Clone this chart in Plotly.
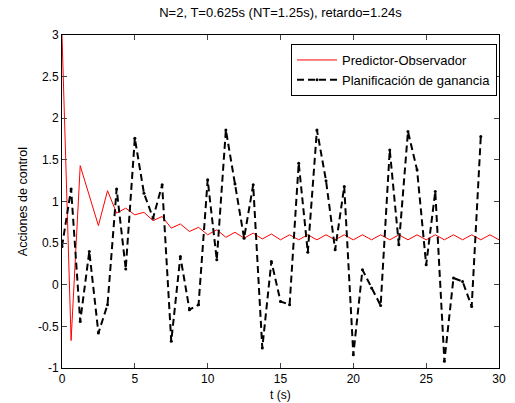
import plotly.graph_objects as go

T = 0.625
# Predictor-Observador (red), samples every T from t=0 to t=30
pred_vals = [3.0, -0.67, 1.43, 1.07, 0.71, 1.13, 0.86, 0.92, 0.84, 0.87,
             0.77, 0.82, 0.68, 0.73, 0.64, 0.69, 0.60, 0.66, 0.57, 0.63,
             0.56, 0.62, 0.55, 0.61, 0.54, 0.60, 0.54, 0.60, 0.54, 0.60,
             0.54, 0.60, 0.54, 0.60, 0.54, 0.60, 0.54, 0.60, 0.54, 0.60,
             0.54, 0.60, 0.54, 0.60, 0.54, 0.60, 0.54, 0.60, 0.54]
# Planificación de ganancia (black dashed), samples every T from t=0 to t=28.75
gain_vals = [0.46, 1.15, -0.44, 0.40, -0.58, -0.24, 1.15, 0.19, 1.76, 1.10,
             0.80, 1.20, -0.68, 0.34, -0.30, -0.24, 1.26, 0.30, 1.86, 1.21,
             0.56, 1.20, -0.76, 0.28, -0.20, -0.24, 1.46, 0.39, 1.86, 1.25,
             0.42, 1.18, -0.84, 0.18, -0.04, -0.25, 1.62, 0.48, 1.84, 1.38,
             0.24, 1.12, -0.92, 0.08, 0.04, -0.26, 1.78]
pred_t = [i * T for i in range(len(pred_vals))]
gain_t = [i * T for i in range(len(gain_vals))]

x_ticks = [0, 5, 10, 15, 20, 25, 30]
y_ticks = [-1, -0.5, 0, 0.5, 1, 1.5, 2, 2.5, 3]
y_tick_labels = ["-1", "-0.5", "0", "0.5", "1", "1.5", "2", "2.5", "3"]

FONT = "Liberation Sans, Arial, sans-serif"

fig = go.Figure()
fig.add_trace(go.Scatter(x=pred_t, y=pred_vals, mode="lines",
                         name="Predictor-Observador",
                         line=dict(color="#ff0000", width=1)))
fig.add_trace(go.Scatter(x=gain_t, y=gain_vals, mode="lines+markers",
                         name="Planificación de ganancia",
                         line=dict(color="black", width=2, dash="7px,4px"),
                         marker=dict(color="black", size=3)))

fig.update_layout(
    width=515, height=403,
    margin=dict(l=62, r=9, t=35, b=35),
    paper_bgcolor="white", plot_bgcolor="white",
    font=dict(family=FONT, size=12, color="black"),
    title=dict(text="N=2, T=0.625s (NT=1.25s), retardo=1.24s",
               x=0.5, xref="paper", xanchor="center",
               y=1 - 12 / 403, yref="container", yanchor="middle",
               font=dict(family=FONT, size=13, color="black")),
    showlegend=True,
    legend=dict(x=(504 - 62) / 444, xanchor="right", y=(368 - 44) / 333, yanchor="top",
                bgcolor="white", bordercolor="black", borderwidth=1,
                font=dict(family=FONT, size=13, color="black"),
                tracegroupgap=0, itemwidth=40),
    xaxis=dict(range=[0, 30], tickvals=x_ticks, ticks="inside", ticklen=5,
               showline=True, linecolor="black", linewidth=1, mirror="ticks",
               showgrid=False, zeroline=False,
               tickfont=dict(family=FONT, size=12, color="black")),
    yaxis=dict(range=[-1, 3], tickvals=y_ticks, ticktext=y_tick_labels,
               ticks="inside", ticklen=5,
               showline=True, linecolor="black", linewidth=1, mirror="ticks",
               showgrid=False, zeroline=False,
               tickfont=dict(family=FONT, size=12, color="black")),
    annotations=[
        dict(text="t (s)", xref="paper", yref="paper", x=0.5, y=-(395 - 368) / 333,
             xanchor="center", yanchor="middle", showarrow=False,
             font=dict(family=FONT, size=12, color="black")),
        dict(text="Acciones de control", xref="paper", yref="paper",
             x=-(62 - 22) / 444, y=0.5, xanchor="center", yanchor="middle",
             textangle=-90, showarrow=False,
             font=dict(family=FONT, size=12.5, color="black")),
    ],
)

fig.write_html("out.html", config={"displayModeBar": False},
               post_script="document.body.style.margin='0';document.body.style.overflow='hidden';")
